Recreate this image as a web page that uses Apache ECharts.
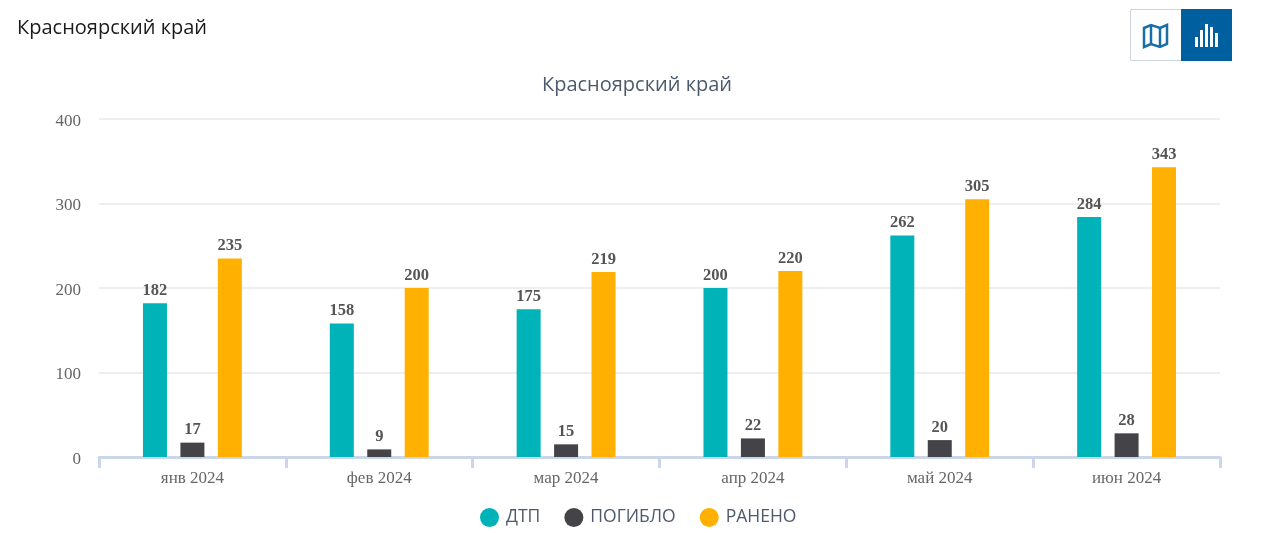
<!DOCTYPE html>
<html>
<head>
<meta charset="utf-8">
<style>
  html, body { margin: 0; padding: 0; background: #fff; }
  #chart { width: 1280px; height: 533px; }
</style>
<script src="https://cdn.jsdelivr.net/npm/echarts@6/dist/echarts.min.js"></script>
</head>
<body>
<div id="chart"></div>
<script>
const categories = ["янв 2024", "фев 2024", "мар 2024", "апр 2024", "май 2024", "июн 2024"];
const dtp = [182, 158, 175, 200, 262, 284];
const pogiblo = [17, 9, 15, 22, 20, 28];
const raneno = [235, 200, 219, 220, 305, 343];
const regionName = "Красноярский край";

const serifFont = "'Liberation Serif', 'DejaVu Serif', serif";
const sansFont = "'Open Sans', 'Noto Sans', sans-serif";

function makeSeries(name, values, color) {
  return {
    name: name,
    type: "bar",
    data: values,
    barWidth: 24,
    barGap: "56%",
    itemStyle: { color: color },
    label: {
      show: true,
      position: "top",
      distance: 4,
      fontFamily: serifFont,
      fontSize: 16.5,
      fontWeight: "bold",
      color: "#555",
    },
  };
}

let myChart = echarts.init(document.getElementById("chart"), null, { renderer: "canvas" });
myChart.setOption({
  animation: false,
  backgroundColor: "#fff",
  title: [
    {
      text: regionName,
      left: 12,
      top: 13,
      textStyle: { fontFamily: sansFont, fontSize: 20, fontWeight: "normal", color: "#1a1a1a" },
    },
    {
      text: regionName,
      left: 632,
      top: 70,
      textAlign: "center",
      textStyle: { fontFamily: sansFont, fontSize: 20, fontWeight: "normal", color: "#4d5a6b" },
    },
  ],
  legend: {
    data: ["ДТП", "ПОГИБЛО", "РАНЕНО"],
    left: 475,
    top: 503,
    icon: "circle",
    itemWidth: 19,
    itemHeight: 19,
    itemGap: 24,
    textStyle: { fontFamily: sansFont, fontSize: 17.5, color: "#4d5a6b", padding: [0, 0, 0, 2] },
  },
  grid: { left: 99, right: 60, top: 119, bottom: 76 },
  xAxis: {
    type: "category",
    data: categories,
    axisLine: { lineStyle: { color: "#ccd6eb", width: 3 } },
    axisTick: { show: true, alignWithLabel: false, length: 11, lineStyle: { color: "#ccd6eb", width: 3 } },
    axisLabel: { fontFamily: serifFont, fontSize: 17, color: "#666", margin: 13 },
  },
  yAxis: {
    type: "value",
    min: 0,
    max: 400,
    interval: 100,
    axisLine: { show: false },
    axisTick: { show: false },
    axisLabel: { fontFamily: serifFont, fontSize: 17, color: "#666", margin: 18, verticalAlign: "top", lineHeight: 5 },
    splitLine: { lineStyle: { color: "#eeeeee", width: 2 } },
  },
  series: [
    makeSeries("ДТП", dtp, "#00b3b8"),
    makeSeries("ПОГИБЛО", pogiblo, "#434348"),
    makeSeries("РАНЕНО", raneno, "#ffb000"),
  ],
  graphic: [
    // кнопки переключения карта / график
    { type: "rect", shape: { x: 1130.5, y: 9.5, width: 51, height: 51 }, style: { fill: "#fff", stroke: "#ccd6e0", lineWidth: 1 } },
    { type: "rect", shape: { x: 1181, y: 9, width: 51, height: 52 }, style: { fill: "#005f9e" } },
    { type: "polygon", shape: { points: [[1144, 28], [1151, 25], [1160, 28], [1167, 25], [1167, 44], [1160, 47], [1151, 44], [1144, 47]] }, style: { fill: "none", stroke: "#1a6ea8", lineWidth: 2.5 } },
    { type: "line", shape: { x1: 1151, y1: 25, x2: 1151, y2: 44 }, style: { stroke: "#1a6ea8", lineWidth: 2.5 } },
    { type: "line", shape: { x1: 1160, y1: 28, x2: 1160, y2: 47 }, style: { stroke: "#1a6ea8", lineWidth: 2.5 } },
    { type: "rect", shape: { x: 1195, y: 37, width: 3, height: 10 }, style: { fill: "#fff" } },
    { type: "rect", shape: { x: 1200, y: 30, width: 3, height: 17 }, style: { fill: "#fff" } },
    { type: "rect", shape: { x: 1205, y: 24, width: 3, height: 23 }, style: { fill: "#fff" } },
    { type: "rect", shape: { x: 1210, y: 27, width: 3, height: 20 }, style: { fill: "#fff" } },
    { type: "rect", shape: { x: 1215, y: 33, width: 3, height: 14 }, style: { fill: "#fff" } },
  ],
});
</script>
</body>
</html>
